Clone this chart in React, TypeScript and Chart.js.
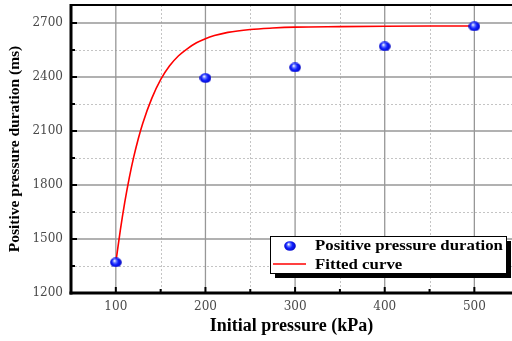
import React, { useEffect, useRef } from "react";
import { Chart, registerables } from "chart.js";

Chart.register(...registerables);

// ---- data ----
const pressures = [100, 200, 300, 400, 500];
const durations = [1370, 2394, 2453, 2570, 2681];

const fitPressures = [100, 105, 110, 115, 120, 125, 130, 140, 150, 160, 170, 180, 190, 200, 210, 225, 250, 275, 300, 350, 400, 450, 500];
const fitDurations = [1370, 1548, 1705, 1840, 1956, 2056, 2142, 2280, 2385, 2462, 2518, 2558, 2590, 2613, 2630, 2648, 2664, 2672, 2677, 2680, 2682, 2683, 2683];

const xMajorTicks = [100, 200, 300, 400, 500];
const xMinorTicks = [150, 250, 350, 450];
const yMajorTicks = [1200, 1500, 1800, 2100, 2400, 2700];
const yMinorTicks = [1350, 1650, 1950, 2250, 2550];

const xTitle = "Initial pressure (kPa)";
const yTitle = "Positive pressure duration (ms)";
const legendLabels = ["Positive pressure duration", "Fitted curve"];

function makeSphere(): HTMLCanvasElement {
  const c = document.createElement("canvas");
  c.width = 12;
  c.height = 10;
  const g = c.getContext("2d")!;
  const grad = g.createRadialGradient(4.5, 3.2, 0.3, 6, 5, 6.2);
  grad.addColorStop(0, "#ffffff");
  grad.addColorStop(0.22, "#6f82ff");
  grad.addColorStop(0.5, "#1020ff");
  grad.addColorStop(1, "#0000b8");
  g.fillStyle = grad;
  g.beginPath();
  g.ellipse(6, 5, 5.8, 4.8, 0, 0, Math.PI * 2);
  g.fill();
  return c;
}

export default function App() {
  const ref = useRef<HTMLCanvasElement | null>(null);

  useEffect(() => {
    if (!ref.current) return;
    const sphere = makeSphere();

    const decor = {
      id: "decor",
      beforeDatasetsDraw(chart: any) {
        const { ctx, chartArea: a, scales } = chart;
        const xs = scales.x, ys = scales.y;
        ctx.save();
        ctx.beginPath();
        ctx.rect(a.left, a.top, a.right - a.left, a.bottom - a.top);
        ctx.clip();
        ctx.strokeStyle = "#c4c4c4";
        ctx.lineWidth = 1;
        ctx.setLineDash([2, 2]);
        xMinorTicks.forEach((v) => {
          const x = Math.round(xs.getPixelForValue(v)) + 0.5;
          ctx.beginPath(); ctx.moveTo(x, a.top); ctx.lineTo(x, a.bottom); ctx.stroke();
        });
        yMinorTicks.forEach((v) => {
          const y = Math.round(ys.getPixelForValue(v)) + 0.5;
          ctx.beginPath(); ctx.moveTo(a.left, y); ctx.lineTo(a.right, y); ctx.stroke();
        });
        ctx.setLineDash([]);
        ctx.strokeStyle = "#979797";
        ctx.lineWidth = 1.3;
        xMajorTicks.forEach((v) => {
          const x = xs.getPixelForValue(v);
          ctx.beginPath(); ctx.moveTo(x, a.top); ctx.lineTo(x, a.bottom); ctx.stroke();
        });
        yMajorTicks.forEach((v) => {
          const y = ys.getPixelForValue(v);
          ctx.beginPath(); ctx.moveTo(a.left, y); ctx.lineTo(a.right, y); ctx.stroke();
        });
        ctx.restore();
      },
      afterDraw(chart: any) {
        const { ctx, chartArea: a, scales } = chart;
        const xs = scales.x, ys = scales.y;
        ctx.save();
        ctx.strokeStyle = "#000";
        ctx.lineWidth = 2;
        ctx.beginPath(); ctx.moveTo(a.left, a.top); ctx.lineTo(a.right, a.top); ctx.stroke();
        ctx.lineWidth = 3;
        ctx.beginPath(); ctx.moveTo(a.left, a.top - 1); ctx.lineTo(a.left, a.bottom + 1.5); ctx.stroke();
        ctx.beginPath(); ctx.moveTo(a.left - 1.5, a.bottom); ctx.lineTo(a.right, a.bottom); ctx.stroke();
        ctx.lineWidth = 2;
        yMajorTicks.forEach((v) => {
          const y = ys.getPixelForValue(v);
          ctx.beginPath(); ctx.moveTo(a.left, y); ctx.lineTo(a.left + 6, y); ctx.stroke();
        });
        yMinorTicks.forEach((v) => {
          const y = ys.getPixelForValue(v);
          ctx.beginPath(); ctx.moveTo(a.left, y); ctx.lineTo(a.left + 4, y); ctx.stroke();
        });
        xMajorTicks.forEach((v) => {
          const x = xs.getPixelForValue(v);
          ctx.beginPath(); ctx.moveTo(x, a.bottom); ctx.lineTo(x, a.bottom - 6); ctx.stroke();
        });
        xMinorTicks.forEach((v) => {
          const x = xs.getPixelForValue(v);
          ctx.beginPath(); ctx.moveTo(x, a.bottom); ctx.lineTo(x, a.bottom - 4); ctx.stroke();
        });

        // legend
        const bx = 270, by = 236, bw = 236, bh = 37, sh = 5;
        ctx.fillStyle = "#000";
        ctx.fillRect(bx + sh, by + sh, bw, bh);
        ctx.fillStyle = "#fff";
        ctx.fillRect(bx, by, bw, bh);
        ctx.lineWidth = 1;
        ctx.strokeStyle = "#000";
        ctx.strokeRect(bx + 0.5, by + 0.5, bw, bh);
        ctx.drawImage(sphere, 290 - 6, 246 - 5);
        ctx.strokeStyle = "#ff0000";
        ctx.lineWidth = 1.5;
        ctx.beginPath(); ctx.moveTo(273, 264); ctx.lineTo(306, 264); ctx.stroke();
        ctx.fillStyle = "#000";
        ctx.font = "bold 15px 'Liberation Serif'";
        ctx.textBaseline = "middle";
        ctx.textAlign = "left";
        ctx.save();
        ctx.translate(315, 0);
        ctx.scale(1.12, 1);
        ctx.fillText(legendLabels[0], 0, 246);
        ctx.fillText(legendLabels[1], 0, 265);
        ctx.restore();
        ctx.restore();
      },
    };

    const tickFont = { family: "'DejaVu Serif'", size: 12 };

    const chart = new Chart(ref.current, {
      type: "scatter",
      data: {
        datasets: [
          {
            label: legendLabels[1],
            data: fitPressures.map((x, i) => ({ x, y: fitDurations[i] })),
            showLine: true,
            borderColor: "#ff0000",
            borderWidth: 1.6,
            pointRadius: 0,
            cubicInterpolationMode: "monotone",
            order: 1,
          },
          {
            label: legendLabels[0],
            data: pressures.map((x, i) => ({ x, y: durations[i] })),
            pointStyle: sphere,
            pointRadius: 6,
            showLine: false,
            order: 0,
          },
        ],
      },
      options: {
        responsive: false,
        animation: false,
        devicePixelRatio: 1,
        layout: { autoPadding: false, padding: { top: 5, right: 0, left: 0, bottom: 0 } },
        plugins: { legend: { display: false }, tooltip: { enabled: false } },
        scales: {
          x: {
            type: "linear",
            min: 50,
            max: 542,
            grid: { display: false, drawTicks: false },
            border: { display: false },
            afterBuildTicks: (s: any) => { s.ticks = xMajorTicks.map((v) => ({ value: v })); },
            afterFit: (s: any) => { s.height = 48; s.paddingLeft = 0; s.paddingRight = 0; },
            ticks: { font: tickFont, color: "#4a4a4a", padding: 7, maxRotation: 0, callback: (v: any) => String(v) },
            title: { display: true, text: xTitle, font: { family: "'Liberation Serif'", size: 18, weight: "bold" }, color: "#000", padding: { top: 0, bottom: 4 } },
          },
          y: {
            type: "linear",
            min: 1200,
            max: 2800,
            grid: { display: false, drawTicks: false },
            border: { display: false },
            afterBuildTicks: (s: any) => { s.ticks = yMajorTicks.map((v) => ({ value: v })); },
            afterFit: (s: any) => { s.width = 71; s.paddingTop = 0; s.paddingBottom = 0; },
            ticks: { font: tickFont, color: "#4a4a4a", padding: 8, callback: (v: any) => String(v) },
            title: { display: true, text: yTitle, font: { family: "'Liberation Serif'", size: 15.5, weight: "bold" }, color: "#000", padding: { top: 6, bottom: 0 } },
          },
        },
      },
      plugins: [decor],
    });
    return () => chart.destroy();
  }, []);

  return (
    <div style={{ position: "absolute", left: 0, top: 0, width: 512, height: 341, background: "#fff" }}>
      <canvas ref={ref} width={512} height={341} style={{ display: "block" }} />
    </div>
  );
}
